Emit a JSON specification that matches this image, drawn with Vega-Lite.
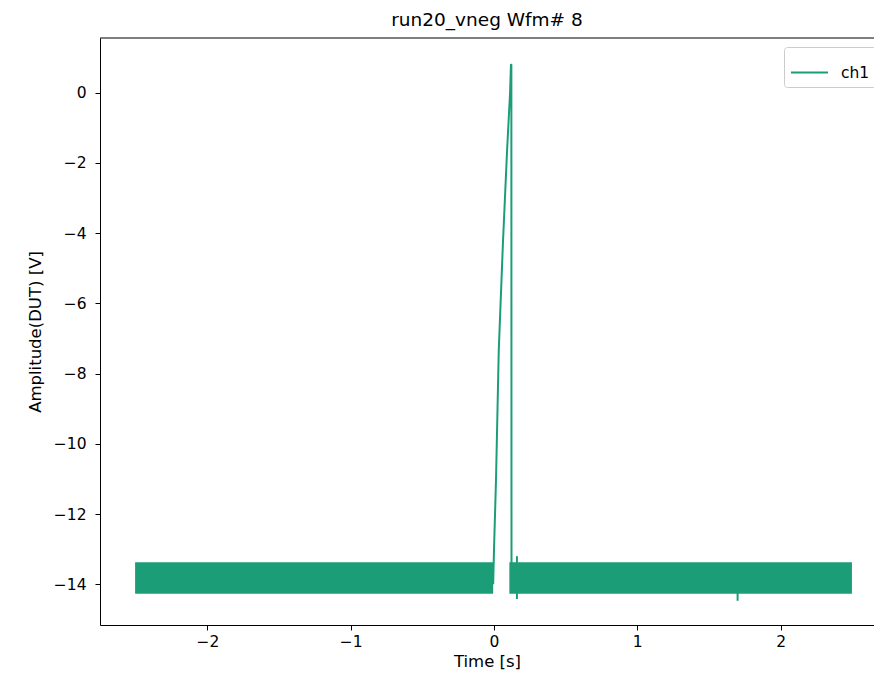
{
  "$schema": "https://vega.github.io/schema/vega-lite/v6.json",
  "width": 774,
  "height": 587,
  "autosize": {"type": "none"},
  "padding": {"left": 100, "top": 38, "right": 0, "bottom": 54},
  "background": "white",
  "config": {
    "font": "DejaVu Sans",
    "view": {"stroke": null},
    "axis": {
      "grid": false,
      "domainColor": "black",
      "domainWidth": 1,
      "tickColor": "black",
      "tickSize": 5,
      "tickWidth": 1,
      "labelFont": "DejaVu Sans",
      "labelFontSize": 15.5,
      "labelColor": "black",
      "titleFont": "DejaVu Sans",
      "titleFontSize": 16.5,
      "titleFontWeight": "normal",
      "titleColor": "black"
    }
  },
  "title": {"text": "run20_vneg Wfm# 8", "fontSize": 18.5, "fontWeight": "normal", "font": "DejaVu Sans", "color": "black", "offset": 8},
  "datasets": {
    "band": [
      {"seg": "A", "t": -2.505, "lo": -14.27, "hi": -13.37},
      {"seg": "A", "t": -0.006, "lo": -14.27, "hi": -13.37},
      {"seg": "B", "t": 0.107, "lo": -14.27, "hi": -13.37},
      {"seg": "B", "t": 2.498, "lo": -14.27, "hi": -13.37}
    ],
    "wave": [
      {"series": "ch1", "seg": "p", "i": 0, "t": -0.006, "v": -14.0},
      {"series": "ch1", "seg": "p", "i": 1, "t": 0.0, "v": -13.0},
      {"series": "ch1", "seg": "p", "i": 2, "t": 0.014, "v": -11.0},
      {"series": "ch1", "seg": "p", "i": 3, "t": 0.033, "v": -7.35},
      {"series": "ch1", "seg": "p", "i": 4, "t": 0.062, "v": -4.3},
      {"series": "ch1", "seg": "p", "i": 5, "t": 0.091, "v": -1.65},
      {"series": "ch1", "seg": "p", "i": 6, "t": 0.112, "v": 0.0},
      {"series": "ch1", "seg": "p", "i": 7, "t": 0.118, "v": 0.8},
      {"series": "ch1", "seg": "p", "i": 8, "t": 0.121, "v": 0.8},
      {"series": "ch1", "seg": "p", "i": 9, "t": 0.122, "v": -13.6},
      {"series": "ch1", "seg": "s1", "i": 10, "t": 0.16, "v": -13.2},
      {"series": "ch1", "seg": "s1", "i": 11, "t": 0.16, "v": -14.42},
      {"series": "ch1", "seg": "s2", "i": 12, "t": 1.7, "v": -14.0},
      {"series": "ch1", "seg": "s2", "i": 13, "t": 1.7, "v": -14.47}
    ]
  },
  "layer": [
    {
      "data": {"name": "band"},
      "mark": {"type": "area", "color": "#1b9e77", "opacity": 1},
      "encoding": {
        "x": {"field": "t", "type": "quantitative", "scale": {"domain": [-2.75, 2.652], "nice": false, "zero": false},
          "axis": {"values": [-2, -1, 0, 1, 2], "format": "d", "title": "Time [s]", "labelPadding": 4, "titlePadding": 4, "labelExpr": "replace(datum.label, '-', '−')"}},
        "y": {"field": "hi", "type": "quantitative", "scale": {"domain": [-15.16, 1.56], "nice": false, "zero": false},
          "axis": {"values": [0, -2, -4, -6, -8, -10, -12, -14], "format": "d", "title": "Amplitude(DUT) [V]", "labelPadding": 9, "titlePadding": 10, "labelExpr": "replace(datum.label, '-', '−')"}},
        "y2": {"field": "lo"},
        "detail": {"field": "seg"}
      }
    },
    {
      "data": {"name": "wave"},
      "mark": {"type": "line", "strokeWidth": 2, "strokeJoin": "round"},
      "encoding": {
        "x": {"field": "t", "type": "quantitative"},
        "y": {"field": "v", "type": "quantitative"},
        "detail": {"field": "seg"},
        "order": {"field": "i"},
        "color": {"field": "series", "type": "nominal", "scale": {"range": ["#1b9e77"]},
          "legend": {"title": null, "orient": "none", "legendX": 684, "legendY": 9, "symbolType": "stroke", "symbolSize": 1369, "symbolStrokeWidth": 2, "labelFontSize": 15.5, "labelFont": "DejaVu Sans", "labelColor": "black", "labelOffset": 12, "padding": 6, "strokeColor": "#cccccc", "fillColor": "white", "cornerRadius": 3}}
      }
    },
    {
      "data": {"values": [{"t": -2.75}]},
      "mark": {"type": "rule", "color": "black", "strokeWidth": 1},
      "encoding": {
        "y": {"datum": 1.56, "type": "quantitative"},
        "x": {"datum": -2.75, "type": "quantitative"},
        "x2": {"datum": 2.652}
      }
    }
  ]
}
